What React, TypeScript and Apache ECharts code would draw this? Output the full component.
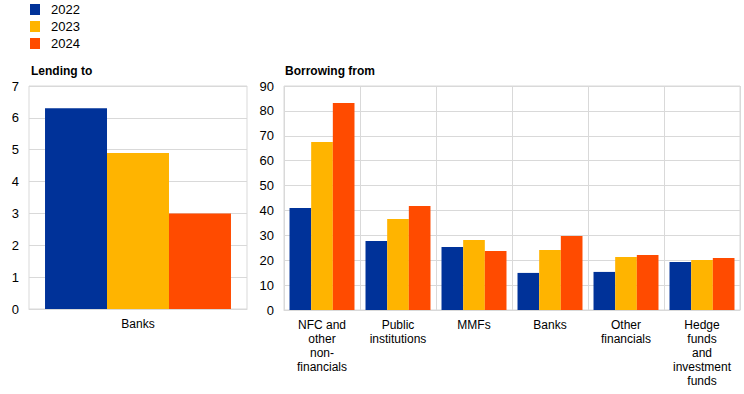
import React, { useEffect, useRef } from "react";
import * as echarts from "echarts";

const years = ["2022", "2023", "2024"];
const colors = ["#003299", "#FFB400", "#FF4B00"];

const lendingCategories = ["Banks"];
const lending2022 = [6.3];
const lending2023 = [4.9];
const lending2024 = [3.0];

const borrowingCategories = [
  "NFC and\nother\nnon-\nfinancials",
  "Public\ninstitutions",
  "MMFs",
  "Banks",
  "Other\nfinancials",
  "Hedge\nfunds\nand\ninvestment\nfunds",
];
const borrowing2022 = [41.0, 27.7, 25.3, 14.9, 15.3, 19.3];
const borrowing2023 = [67.5, 36.6, 28.1, 24.1, 21.3, 20.1];
const borrowing2024 = [83.2, 41.8, 23.7, 29.7, 22.1, 20.9];

const FONT = "Liberation Sans, Arial, sans-serif";
const GRID_COLOR = "#d9d9d9";

export default function App() {
  const ref = useRef<HTMLDivElement>(null);

  useEffect(() => {
    if (!ref.current) return;
    const chart = echarts.init(ref.current, undefined, { renderer: "svg" });
    const lending = [lending2022, lending2023, lending2024];
    const borrowing = [borrowing2022, borrowing2023, borrowing2024];

    const xLabel = { color: "#000", fontSize: 12, fontFamily: FONT };
    const yLabel = { color: "#000", fontSize: 13, fontFamily: FONT };

    chart.setOption({
      animation: false,
      textStyle: { fontFamily: FONT },
      legend: {
        data: years,
        orient: "vertical",
        left: 30,
        top: 3,
        padding: 0,
        icon: "rect",
        itemWidth: 10,
        itemHeight: 11,
        itemGap: 4,
        textStyle: { color: "#000", fontSize: 13, fontFamily: FONT, lineHeight: 11, padding: [0, 0, 0, 6] },
      },
      title: [
        {
          text: "Lending to",
          left: 31,
          top: 65,
          padding: 0,
          textStyle: { fontSize: 12, fontWeight: "bold", color: "#000", fontFamily: FONT },
        },
        {
          text: "Borrowing from",
          left: 285,
          top: 65,
          padding: 0,
          textStyle: { fontSize: 12, fontWeight: "bold", color: "#000", fontFamily: FONT },
        },
      ],
      grid: [
        { left: 29, top: 86, width: 218, height: 223, show: true, borderColor: GRID_COLOR, borderWidth: 1 },
        { left: 284, top: 86, width: 456, height: 224, show: true, borderColor: GRID_COLOR, borderWidth: 1 },
      ],
      xAxis: [
        {
          type: "category",
          gridIndex: 0,
          data: lendingCategories,
          axisLine: { lineStyle: { color: GRID_COLOR } },
          axisTick: { show: false },
          axisLabel: { ...xLabel, margin: 8, lineHeight: 14 },
          splitLine: { show: false },
        },
        {
          type: "category",
          gridIndex: 1,
          data: borrowingCategories,
          axisLine: { lineStyle: { color: GRID_COLOR } },
          axisTick: { show: false },
          axisLabel: { ...xLabel, margin: 8, lineHeight: 14, interval: 0 },
          splitLine: { show: true, interval: 0, lineStyle: { color: GRID_COLOR } },
        },
      ],
      yAxis: [
        {
          type: "value",
          gridIndex: 0,
          min: 0,
          max: 7,
          interval: 1,
          axisLine: { show: false },
          axisTick: { show: false },
          axisLabel: { ...yLabel, margin: 10 },
          splitLine: { lineStyle: { color: GRID_COLOR } },
        },
        {
          type: "value",
          gridIndex: 1,
          min: 0,
          max: 90,
          interval: 10,
          axisLine: { show: false },
          axisTick: { show: false },
          axisLabel: { ...yLabel, margin: 10 },
          splitLine: { lineStyle: { color: GRID_COLOR } },
        },
      ],
      series: [
        ...years.map((y, i) => ({
          name: y,
          type: "bar",
          xAxisIndex: 0,
          yAxisIndex: 0,
          data: lending[i],
          itemStyle: { color: colors[i] },
          barGap: "0%",
          barCategoryGap: "14.7%",
        })),
        ...years.map((y, i) => ({
          name: y,
          type: "bar",
          xAxisIndex: 1,
          yAxisIndex: 1,
          data: borrowing[i],
          itemStyle: { color: colors[i] },
          barGap: "0%",
          barCategoryGap: "14.5%",
        })),
      ],
    });

    return () => chart.dispose();
  }, []);

  return (
    <div
      ref={ref}
      style={{ position: "fixed", left: 0, top: 0, width: 744, height: 394, background: "#fff" }}
    />
  );
}
